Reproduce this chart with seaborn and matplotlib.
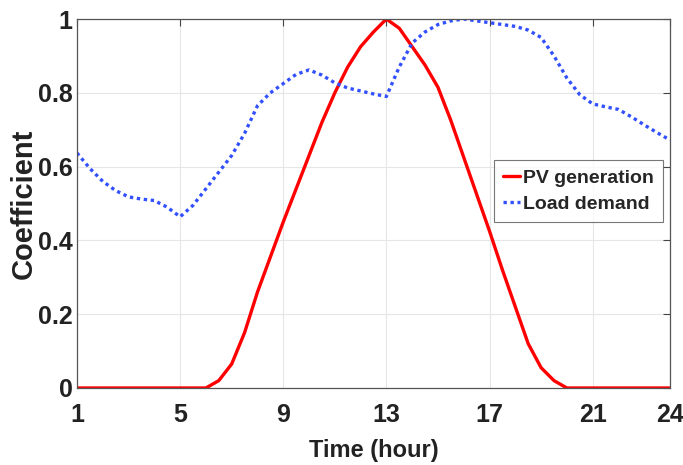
import numpy as np
import pandas as pd
import matplotlib
matplotlib.use("Agg")
import matplotlib.pyplot as plt
import seaborn as sns

# Half-hourly values
hours = [1, 1.5, 2, 2.5, 3, 3.5, 4, 4.5, 5, 5.5, 6, 6.5, 7, 7.5, 8, 8.5, 9, 9.5,
         10, 10.5, 11, 11.5, 12, 12.5, 13, 13.5, 14, 14.5, 15, 15.5, 16, 16.5,
         17, 17.5, 18, 18.5, 19, 19.5, 20, 20.5, 21, 21.5, 22, 22.5, 23, 23.5, 24]
pv_generation = [0, 0, 0, 0, 0, 0, 0, 0, 0, 0, 0, 0.02, 0.065, 0.15, 0.26, 0.355,
                 0.45, 0.54, 0.63, 0.72, 0.8, 0.87, 0.925, 0.965, 1.0, 0.975, 0.925,
                 0.875, 0.815, 0.725, 0.625, 0.525, 0.425, 0.32, 0.22, 0.12, 0.055,
                 0.02, 0, 0, 0, 0, 0, 0, 0, 0, 0]
load_demand = [0.637, 0.595, 0.56, 0.535, 0.518, 0.512, 0.508, 0.49, 0.464, 0.495,
               0.54, 0.585, 0.63, 0.69, 0.765, 0.8, 0.825, 0.85, 0.862, 0.848, 0.827,
               0.813, 0.805, 0.797, 0.79, 0.87, 0.935, 0.965, 0.985, 0.995, 1.0, 0.995,
               0.99, 0.985, 0.98, 0.97, 0.95, 0.9, 0.84, 0.795, 0.77, 0.762, 0.755,
               0.735, 0.713, 0.692, 0.672]
series_names = ["PV generation", "Load demand"]
x_ticks = [1, 5, 9, 13, 17, 21, 24]
y_ticks = [0, 0.2, 0.4, 0.6, 0.8, 1]
y_tick_labels = ["0", "0.2", "0.4", "0.6", "0.8", "1"]

df = pd.DataFrame({
    "Time": hours * 2,
    "Coefficient": pv_generation + load_demand,
    "Series": [series_names[0]] * len(hours) + [series_names[1]] * len(hours),
})

sns.set_style("white")
plt.rcParams["font.family"] = ["Liberation Sans", "DejaVu Sans"]
plt.rcParams["font.weight"] = "bold"

fig = plt.figure(figsize=(6.83, 4.65), dpi=100)
ax = fig.add_axes([0.1127, 0.1656, 0.8683, 0.7935])

sns.lineplot(data=df, x="Time", y="Coefficient", hue="Series", style="Series",
             palette={"PV generation": "#ff0000", "Load demand": "#3350ff"},
             dashes={"PV generation": "", "Load demand": (1, 1.1)},
             linewidth=2.4, ax=ax)

ax.set_xlim(1, 24)
ax.set_ylim(0, 1)
ax.set_xticks(x_ticks)
ax.set_yticks(y_ticks)
ax.set_yticklabels(y_tick_labels)
ax.grid(True, color="#e6e6e6", linewidth=0.8)
ax.tick_params(direction="in", length=5, width=0.8, color="#444444",
               labelsize=18, top=True, right=True)
ax.tick_params(axis="x", pad=10.5)
ax.tick_params(axis="y", pad=3)
for lab in ax.get_xticklabels() + ax.get_yticklabels():
    lab.set_fontweight("bold")
    lab.set_color("#222222")
for s in ax.spines.values():
    s.set_color("#555555")
    s.set_linewidth(0.9)

ax.set_xlabel("Time (hour)", fontsize=17, fontweight="bold", color="#222222", labelpad=9)
ax.set_ylabel("Coefficient", fontsize=21, fontweight="bold", color="#222222", labelpad=0)

leg = ax.legend(loc="center right", bbox_to_anchor=(0.988, 0.534), fontsize=14,
                frameon=True, fancybox=False, edgecolor="#555555",
                handlelength=0.9, handletextpad=0.15, borderpad=0.45,
                labelspacing=0.45, borderaxespad=0.0)
leg.get_frame().set_linewidth(0.8)
for t in leg.get_texts():
    t.set_fontweight("bold")

fig.savefig("out.png", dpi=100)
